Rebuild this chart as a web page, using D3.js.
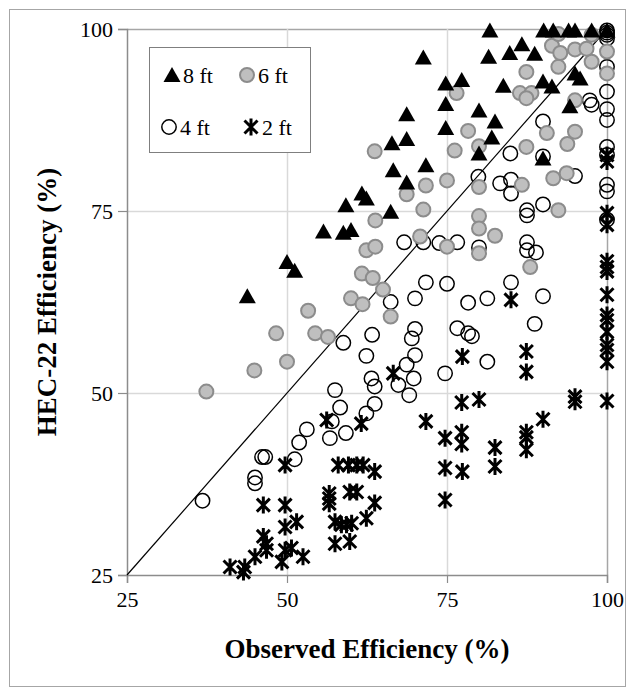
<!DOCTYPE html>
<html>
<head>
<meta charset="utf-8">
<script src="https://cdn.jsdelivr.net/npm/d3@7"></script>
<style>
  body { margin: 0; background: #fff; }
  text { font-family: "Liberation Serif", "Times New Roman", serif; }
</style>
</head>
<body>
<script>
// values, [observed, HEC-22]
const ft8 = [[43.8,63.3],[50,68.0],[51.2,66.8],[55.7,72.2],[58.8,72.0],[60,72.4],[59.2,75.8],[61.7,77.4],
  [62.4,76.7],[66.2,74.9],[68.7,78.9],[66.6,80.6],[71.7,81.3],[66.4,84.3],[68.7,84.9],[68.7,88.3],
  [71.3,96.1],[74.8,92.5],[74.8,89.7],[74.8,86.4],[77.3,93.0],[80,88.8],[82.5,87.3],[82,85.1],
  [80,82.9],[81.5,96.2],[81.7,99.8],[84.8,96.7],[86.7,97.9],[88.7,96.6],[83.8,92.2],[90,92.8],
  [91.4,92.1],[90,82.2],[95,93.9],[95.8,93.2],[94.2,89.4],[90.1,99.8],[91.6,99.8],[94,99.8],
  [95,99.8],[97.6,99.8],[100,99.8]];
const ft6 = [[37.4,50.2],[44.9,53.1],[48.3,58.2],[50,54.3],[53.3,61.3],[54.4,58.2],[56.4,57.7],[60,63.0],
  [61.8,62.2],[61.7,66.4],[63.4,65.8],[65,64.2],[66.2,60.5],[62.4,69.6],[63.8,70.1],[63.8,73.7],
  [63.7,83.2],[68.7,77.3],[71.7,78.5],[75,79.2],[71.3,75.2],[70.8,71.5],[75,70.1],[76.2,83.3],
  [78.3,86.0],[80,83.9],[80,78.3],[76.5,91.2],[86.4,91.2],[88.2,91.2],[87.4,90.5],[87.4,94.1],
  [87.4,83.8],[86.7,78.6],[91.6,79.5],[93.7,80.2],[90.6,85.7],[95,85.9],[93.8,84.2],[95,90.2],
  [92.4,94.8],[97.6,95.5],[91.4,97.7],[92.7,96.7],[95,97.2],[96.8,97.3],[92.4,99.3],[97.6,99.2],
  [100,96.9],[100,93.9],[80,74.3],[80,72.6],[82.5,71.6],[80,69.2],[88,67.3],[92.4,75.1]];
const ft4 = [[36.8,35.2],[45,38.4],[45,37.6],[46.6,41.2],[46.1,41.2],[51.2,40.9],[51.9,43.2],[53.1,45.0],
  [56.7,43.8],[57,46.1],[59.2,44.5],[58.3,48.0],[57.5,50.4],[62.4,47.2],[63.7,48.5],[63.2,52.0],
  [63.7,50.9],[67.4,51.1],[69.8,52.0],[69.1,49.7],[68.7,53.9],[70,55.2],[62.4,55.1],[58.8,56.9],
  [63.3,58.0],[70,58.8],[69.5,57.5],[66.2,62.5],[70,63.0],[71.7,65.2],[75,65.0],[68.3,70.7],
  [71.3,70.7],[73.8,70.6],[76.6,70.7],[80,70.0],[74.7,52.7],[76.6,58.9],[78.3,58.2],[78.9,57.8],
  [81.3,54.3],[78.3,62.4],[81.3,63.0],[85,65.2],[90,63.3],[88.7,59.5],[87.5,75.1],[87.5,74.4],
  [90,75.9],[87.5,70.7],[87.5,69.6],[88.9,69.3],[83.3,78.8],[85,79.3],[85,77.4],[79.9,79.7],
  [95,79.8],[84.9,82.9],[90,87.3],[90,82.5],[97.3,90.2],[97.6,89.6],[100,99.8],[100,99.5],
  [100,99.2],[100,98.7],[100,94.8],[100,91.4],[100,89.0],[100,87.5],[100,83.8],[100,82.7],
  [100,78.6],[100,77.7],[100,73.8]];
const ft2 = [[41.1,26.1],[43.2,25.4],[43.4,26.1],[45,27.5],[46.3,30.3],[46.8,29.3],[46.8,28.4],[46.3,34.6],
  [49.7,40.1],[49.7,34.6],[49.7,31.6],[49.7,28.4],[49.2,26.8],[50.7,28.7],[51.5,32.3],[52.5,27.5],
  [56.2,46.3],[56.6,36.2],[56.6,35.5],[56.6,34.8],[57.5,32.3],[58.5,31.9],[59.3,31.9],[60.1,32.1],
  [57.5,29.3],[59.8,29.6],[58,40.1],[59.6,40.1],[60.9,40.1],[61.9,40.1],[63.7,39.2],[59.8,36.4],
  [60.9,36.4],[63.7,34.9],[62.4,32.8],[61.6,45.8],[66.6,52.7],[71.7,46.1],[74.7,43.8],[74.7,39.7],
  [74.7,35.3],[77.3,48.7],[80,49.1],[77.3,44.6],[77.3,43.0],[77.4,39.2],[82.5,42.5],[82.5,39.9],
  [85,62.8],[77.4,55.0],[87.4,55.7],[87.4,52.9],[87.4,44.6],[87.4,43.9],[90,46.4],[87.4,42.2],
  [95,49.5],[95,48.8],[100,48.9],[100,54.3],[100,55.9],[100,56.6],[100,58.4],[100,60.0],
  [100,60.7],[100,63.5],[100,66.7],[100,67.3],[100,68.1],[100,73.1],[100,74.7],[100,81.8],[100,82.7]];
const ticks = [25, 50, 75, 100];
const seriesNames = ['8 ft', '6 ft', '4 ft', '2 ft'];

const w = 635, h = 687;
const svg = d3.select('body').append('svg')
  .attr('width', w).attr('height', h);

svg.append('rect')
  .attr('x', 9.5).attr('y', 9.5)
  .attr('width', w - 19).attr('height', h - 10)
  .attr('fill', '#fff').attr('stroke', '#a6a6a6');

const x = d3.scaleLinear().domain([25, 100]).range([127, 607]);
const y = d3.scaleLinear().domain([25, 100]).range([575, 29]);

// gridlines
svg.append('g').selectAll('line').data(ticks.slice(1)).enter().append('line')
  .attr('x1', x(25)).attr('x2', x(100))
  .attr('y1', d => y(d) + 0.5).attr('y2', d => y(d) + 0.5)
  .attr('stroke', d => d === 100 ? '#a6a6a6' : '#d9d9d9').attr('stroke-width', 1.5);
svg.append('g').selectAll('line').data(ticks.slice(1)).enter().append('line')
  .attr('y1', y(25)).attr('y2', y(100))
  .attr('x1', d => x(d) + 0.5).attr('x2', d => x(d) + 0.5)
  .attr('stroke', d => d === 100 ? '#a6a6a6' : '#d9d9d9').attr('stroke-width', 1.5);

const xAxis = d3.axisBottom(x).tickValues(ticks).tickSize(8).tickPadding(8);
const yAxis = d3.axisLeft(y).tickValues(ticks).tickSize(9).tickPadding(5);
const gx = svg.append('g').attr('transform', `translate(0,${y(25)})`).call(xAxis);
const gy = svg.append('g').attr('transform', `translate(${x(25)},0)`).call(yAxis);
[gx, gy].forEach(g => {
  g.select('.domain').attr('stroke', '#8c8c8c').attr('stroke-width', 1.5);
  g.selectAll('.tick line').attr('stroke', '#8c8c8c').attr('stroke-width', 1.2);
  g.selectAll('.tick text').attr('fill', '#000').style('font-size', '22px')
    .style('font-family', '"Liberation Serif", serif');
});

// 1:1 line
svg.append('line')
  .attr('x1', x(25)).attr('y1', y(25)).attr('x2', x(100)).attr('y2', y(100))
  .attr('stroke', '#000').attr('stroke-width', 1.2);

const triPath = 'M0,-8L8.5,7L-8.5,7Z';
const starPath = 'M-6.5,-6.5L6.5,6.5M6.5,-6.5L-6.5,6.5M0,-8.5L0,8.5';

function drawTri(g, data) {
  g.selectAll('path').data(data).enter().append('path')
    .attr('d', triPath).attr('fill', '#000')
    .attr('transform', d => `translate(${x(d[0])},${y(d[1])})`);
}
function drawGray(g, data) {
  g.selectAll('circle').data(data).enter().append('circle')
    .attr('cx', d => x(d[0])).attr('cy', d => y(d[1])).attr('r', 7)
    .attr('fill', '#bfbfbf').attr('stroke', '#8c8c8c').attr('stroke-width', 2);
}
function drawOpen(g, data) {
  g.selectAll('circle').data(data).enter().append('circle')
    .attr('cx', d => x(d[0])).attr('cy', d => y(d[1])).attr('r', 7.2)
    .attr('fill', 'none').attr('stroke', '#000').attr('stroke-width', 1.5);
}
function drawStar(g, data) {
  g.selectAll('path').data(data).enter().append('path')
    .attr('d', starPath).attr('fill', 'none').attr('stroke', '#000').attr('stroke-width', 3)
    .attr('transform', d => `translate(${x(d[0])},${y(d[1])})`);
}

drawStar(svg.append('g'), ft2);
drawOpen(svg.append('g'), ft4);
drawGray(svg.append('g'), ft6);
drawTri(svg.append('g'), ft8);

// axis titles
svg.append('text')
  .attr('x', (x(25) + x(100)) / 2).attr('y', 658)
  .attr('text-anchor', 'middle').style('font-size', '27px').style('font-weight', 'bold')
  .text('Observed Efficiency (%)');
svg.append('text')
  .attr('transform', `translate(56,${(y(25) + y(100)) / 2}) rotate(-90)`)
  .attr('text-anchor', 'middle').style('font-size', '27px').style('font-weight', 'bold')
  .text('HEC-22 Efficiency (%)');

// legend
const legend = svg.append('g').attr('transform', 'translate(149,47)');
legend.append('rect').attr('x', 0.5).attr('y', 0.5).attr('width', 161).attr('height', 105)
  .attr('fill', '#fff').attr('stroke', '#7f7f7f');
const pos = [[23, 28], [98, 28], [20, 80], [102, 80]];
const drawers = [drawTri, drawGray, drawOpen, drawStar];
seriesNames.forEach((name, i) => {
  const item = legend.append('g').attr('transform', `translate(${pos[i][0]},${pos[i][1]})`);
  const sub = item.append('g');
  drawers[i](sub, [[25, 25]]);
  sub.attr('transform', `translate(${-x(25)},${-y(25)})`);
  item.append('text').attr('x', 11).attr('y', 8).style('font-size', '22px').text(name);
});
</script>
</body>
</html>
